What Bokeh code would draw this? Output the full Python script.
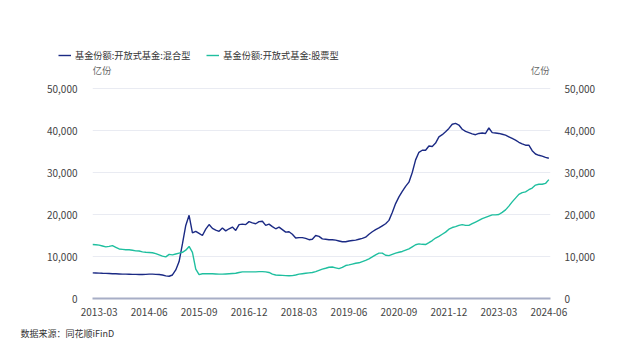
import pandas as pd
from bokeh.plotting import figure
from bokeh.models import (Range1d, LinearAxis, FixedTicker, NumeralTickFormatter,
                          Legend, LegendItem, Label, Title, ColumnDataSource)
from bokeh.embed import file_html
from bokeh.resources import INLINE

# ---------------- data ----------------
months = pd.date_range("2013-01-01", "2024-06-01", freq="MS").strftime("%Y-%m").tolist()

mixed = [
    6100, 6080, 6050, 6000, 5980, 5950, 5900, 5880, 5850, 5800, 5800, 5780,          # 2013
    5750, 5750, 5720, 5700, 5750, 5800, 5800, 5750, 5700, 5600, 5400, 5300,          # 2014
    5600, 6800, 8800, 13000, 17400, 19800, 15600, 16000, 15500, 15000, 16500, 17600, # 2015
    16700, 16300, 16000, 16800, 16100, 16600, 17000, 16200, 17600, 17700, 17600, 18300,  # 2016
    18000, 17800, 18300, 18400, 17400, 17700, 17100, 16600, 17000, 16400, 15800, 15900,  # 2017
    15300, 14400, 14500, 14500, 14300, 14000, 14100, 15000, 14800, 14200, 14100, 14000,  # 2018
    14000, 13900, 13700, 13500, 13500, 13700, 13800, 13900, 14100, 14300, 14600, 15300,  # 2019
    15900, 16400, 16800, 17300, 17800, 18600, 20500, 22600, 24200, 25500, 26700, 27700,  # 2020
    30000, 33000, 34800, 35300, 35300, 36300, 36200, 37000, 38500, 39000, 39700, 40500,  # 2021
    41500, 41700, 41300, 40300, 39800, 39500, 39200, 39000, 39300, 39400, 39300, 40600,  # 2022
    39500, 39400, 39300, 39100, 38900, 38500, 38100, 37700, 37200, 36800, 36500, 36500,  # 2023
    35200, 34400, 34100, 33900, 33600, 33400,                                          # 2024
]

stock = [
    12850, 12800, 12700, 12500, 12300, 12400, 12600, 12200, 11800, 11700, 11600, 11600,  # 2013
    11500, 11350, 11300, 11100, 11000, 10950, 10900, 10700, 10400, 10100, 9900, 10500,   # 2014
    10400, 10600, 10800, 11000, 11500, 12400, 11000, 7000, 5700, 5900, 5900, 5900,       # 2015
    5900, 5850, 5800, 5800, 5850, 5900, 5950, 6000, 6200, 6350, 6350, 6350,              # 2016
    6350, 6350, 6400, 6400, 6350, 6200, 5800, 5600, 5550, 5500, 5450, 5400,              # 2017
    5450, 5600, 5800, 5900, 6000, 6100, 6200, 6400, 6700, 7000, 7200, 7450,              # 2018
    7500, 7300, 7100, 7400, 7850, 8000, 8200, 8400, 8500, 8800, 9100, 9450,              # 2019
    9900, 10400, 10800, 10800, 10300, 10200, 10500, 10800, 11000, 11200, 11500, 11800,   # 2020
    12300, 12800, 13000, 12900, 12850, 13300, 13800, 14400, 14800, 15300, 15800, 16500,  # 2021
    16900, 17100, 17400, 17600, 17400, 17400, 17800, 18200, 18600, 19000, 19300, 19600,  # 2022
    19900, 19900, 20000, 20500, 21100, 22000, 23000, 23900, 24800, 25200, 25400, 25900,  # 2023
    26300, 27000, 27200, 27200, 27400, 28300,                                          # 2024
]

tick_labels = ["2013-03", "2014-06", "2015-09", "2016-12", "2018-03",
               "2019-06", "2020-09", "2021-12", "2023-03", "2024-06"]
y_ticks = [0, 10000, 20000, 30000, 40000, 50000]
series_names = ["基金份额:开放式基金:混合型", "基金份额:开放式基金:股票型"]
unit = "亿份"
source_note = "数据来源：同花顺iFinD"

# ---------------- styling ----------------
NAVY = "#1b2a84"
TEAL = "#1fbf9f"
GRID = "#e9ebf2"
AXIS = "#a7aec6"
TXT = "#444444"
CJK = "Noto Sans CJK SC"
LW = 1.4

# ---------- top strip: legend (separate root, frame covers the whole strip) ----------
top = figure(width=640, height=62, output_backend="svg", toolbar_location=None,
             x_range=Range1d(0, 640), y_range=Range1d(0, 62),
             x_axis_location=None, y_axis_location=None,
             min_border=0, min_border_left=0, min_border_right=0,
             min_border_top=0, min_border_bottom=0)
top.outline_line_color = None
top.grid.visible = False
top.border_fill_color = "white"
top.background_fill_color = "white"
# legend proxies: lines placed outside the visible range
lg1 = top.line(x=[-50, -40], y=[-50, -50], line_color=NAVY, line_width=LW)
lg2 = top.line(x=[-50, -40], y=[-50, -50], line_color=TEAL, line_width=LW)
legend = Legend(items=[LegendItem(label=series_names[0], renderers=[lg1]),
                       LegendItem(label=series_names[1], renderers=[lg2])],
                orientation="horizontal", location=(58, 0),
                padding=0, margin=0, spacing=16, label_standoff=4,
                glyph_width=13, glyph_height=14,
                label_text_font=CJK, label_text_font_size="9.2px", label_text_color="#333333",
                border_line_color=None, background_fill_alpha=0)
top.add_layout(legend)

# ---------- main chart ----------
idx = list(range(len(months)))
src = ColumnDataSource(dict(x=idx, mixed=mixed, stock=stock))

# frame spans y 62..298 of the page; 50,000 sits at y=88
Y_TOP = 50000 * (298 - 62) / (298 - 88)

p = figure(width=640, height=290, output_backend="svg", toolbar_location=None,
           x_range=Range1d(0, 137.5), y_range=Range1d(0, Y_TOP),
           min_border_left=92, min_border_right=90, min_border_top=0, min_border_bottom=54,
           y_axis_location=None)
p.outline_line_color = None
p.background_fill_color = "white"
p.border_fill_color = "white"

r1 = p.line("x", "mixed", source=src, line_color=NAVY, line_width=LW)
r2 = p.line("x", "stock", source=src, line_color=TEAL, line_width=LW)

tick_pos = [months.index(t) for t in tick_labels]
xa = p.xaxis[0]
xa.ticker = FixedTicker(ticks=tick_pos)
xa.major_label_overrides = {pos: lab for pos, lab in zip(tick_pos, tick_labels)}
xa.axis_line_color = AXIS
xa.axis_line_width = 2
xa.major_tick_line_color = None
xa.minor_tick_line_color = None
xa.major_label_standoff = 3
xa.major_label_text_font = CJK
xa.major_label_text_font_size = "10px"
xa.major_label_text_color = TXT
p.xgrid.visible = False

for side, standoff in (("left", 9), ("right", 8)):
    ax = LinearAxis(ticker=FixedTicker(ticks=y_ticks),
                    formatter=NumeralTickFormatter(format="0,0"))
    ax.axis_line_color = None
    ax.major_tick_line_color = None
    ax.minor_tick_line_color = None
    ax.major_label_standoff = standoff
    ax.major_label_text_font = CJK
    ax.major_label_text_font_size = "10px"
    ax.major_label_text_color = TXT
    p.add_layout(ax, side)

p.ygrid.ticker = FixedTicker(ticks=y_ticks[1:])
p.ygrid.grid_line_color = GRID
p.ygrid.grid_line_width = 1

p.add_layout(Label(x=0, y=54300, text=unit, text_align="left", text_baseline="middle",
                   text_font=CJK, text_font_size="9.5px", text_color="#666666"))
p.add_layout(Label(x=137.3, y=54300, text=unit, text_align="right", text_baseline="middle",
                   text_font=CJK, text_font_size="9.5px", text_color="#666666"))

note = Title(text=source_note, align="left", offset=-72, text_font=CJK,
             text_font_size="9px", text_font_style="normal", text_color="#333333",
             standoff=12)
p.add_layout(note, "below")

open("out.html", "w").write(file_html([top, p], INLINE))
